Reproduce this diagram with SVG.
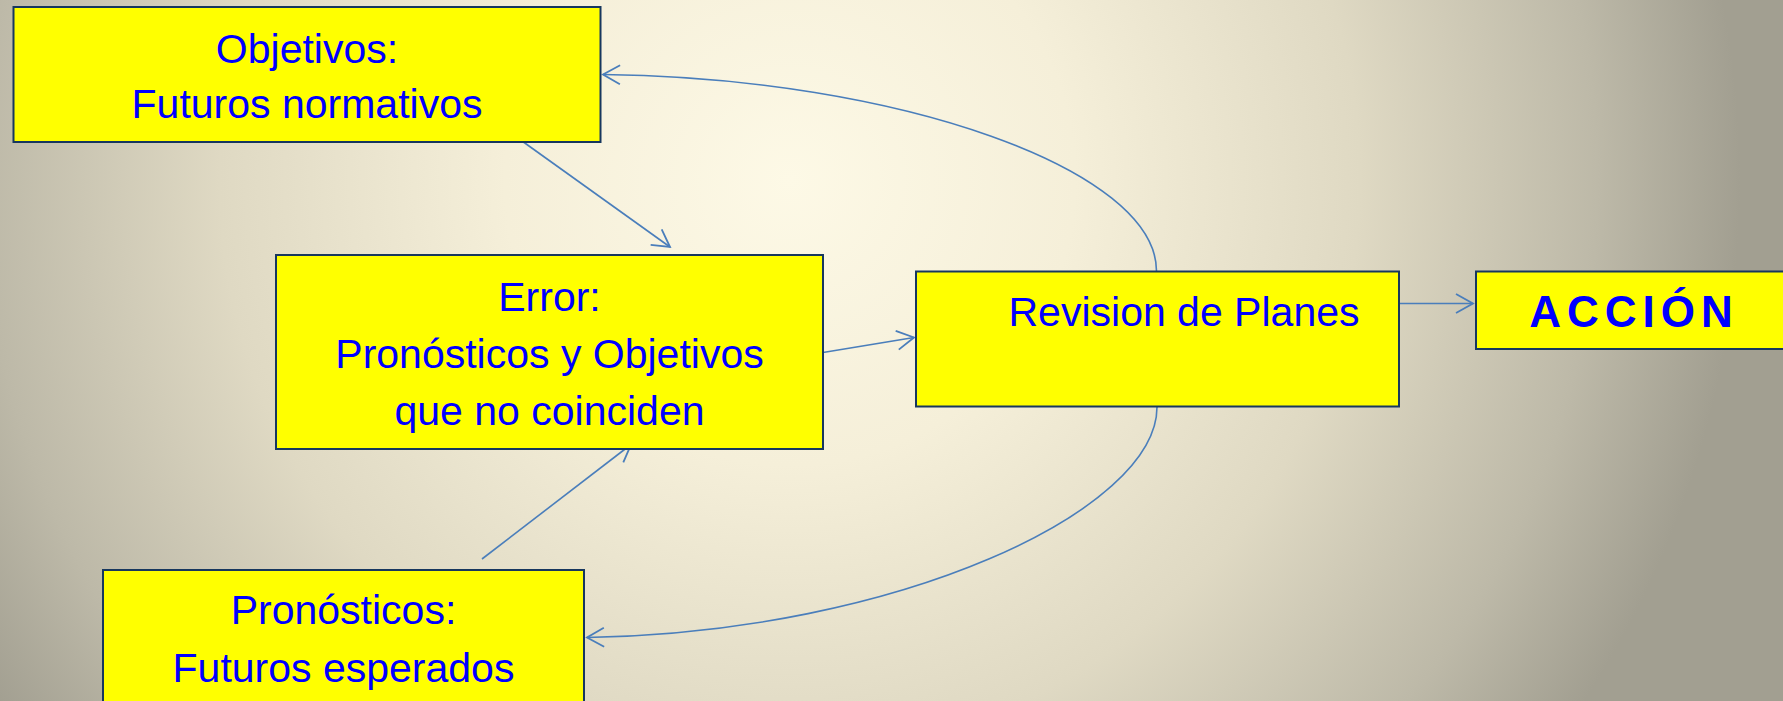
<svg xmlns="http://www.w3.org/2000/svg" width="1783" height="701" viewBox="0 0 1783 701">
  <defs>
    <radialGradient id="bg" gradientUnits="userSpaceOnUse" cx="790" cy="180" r="950">
      <stop offset="0" stop-color="#FDF9E6"/>
      <stop offset="0.3" stop-color="#F5EFD9"/>
      <stop offset="0.6" stop-color="#DFD9C3"/>
      <stop offset="0.85" stop-color="#BDB9A8"/>
      <stop offset="1" stop-color="#A29F91"/>
    </radialGradient>
    <marker id="arr" viewBox="-20 -11 22 22" markerWidth="22" markerHeight="22" refX="0" refY="0" orient="auto" markerUnits="userSpaceOnUse">
      <path d="M-17,-9.5 L0,0 L-17,9.5" fill="none" stroke="#4A7EBB" stroke-width="1.8"/>
    </marker>
    <style>
      .box { fill: #FFFF00; stroke: #17375E; stroke-width: 2; }
      .t { font-family: "Liberation Sans", Arial, sans-serif; font-size: 41px; fill: #0000FF; text-anchor: middle; }
      .tb { font-family: "Liberation Sans", Arial, sans-serif; font-size: 44px; font-weight: bold; fill: #0000FF; letter-spacing: 6px; text-anchor: middle; }
      .c { fill: none; stroke: #4A7EBB; stroke-width: 1.6; marker-end: url(#arr); }
    </style>
  </defs>
  <rect x="0" y="0" width="1783" height="701" fill="url(#bg)"/>

  <g id="connectors">
    <path class="c" d="M518.5,138.5 L670,247"/>
    <path class="c" d="M482,559 L631,444.5"/>
    <path class="c" d="M823,352.5 L914,337.5"/>
    <path class="c" d="M1398,303.5 L1473,303.5"/>
    <path class="c" d="M1156.5,271 C1156.5,170 900,78 603,74.5"/>
    <path class="c" d="M1157,407 C1157,510 900,632 587,637.5"/>
  </g>

  <g id="node-objetivos">
    <rect class="box" x="13.5" y="7" width="587" height="135"/>
    <text class="t" x="307" y="63">Objetivos:</text>
    <text class="t" x="307" y="118">Futuros normativos</text>
  </g>

  <g id="node-error">
    <rect class="box" x="276" y="255" width="547" height="194"/>
    <text class="t" x="549.5" y="311">Error:</text>
    <text class="t" x="549.5" y="368">Pronósticos y Objetivos</text>
    <text class="t" x="549.5" y="425">que no coinciden</text>
  </g>

  <g id="node-revision">
    <rect class="box" x="916" y="271.5" width="483" height="135"/>
    <text class="t" x="1184" y="326">Revision de Planes</text>
  </g>

  <g id="node-accion">
    <rect class="box" x="1476" y="271.5" width="320" height="77.5"/>
    <text class="tb" x="1634" y="327">ACCIÓN</text>
  </g>

  <g id="node-pronosticos">
    <rect class="box" x="103" y="570" width="481" height="150"/>
    <text class="t" x="343.5" y="624">Pronósticos:</text>
    <text class="t" x="343.5" y="682">Futuros esperados</text>
  </g>
</svg>
